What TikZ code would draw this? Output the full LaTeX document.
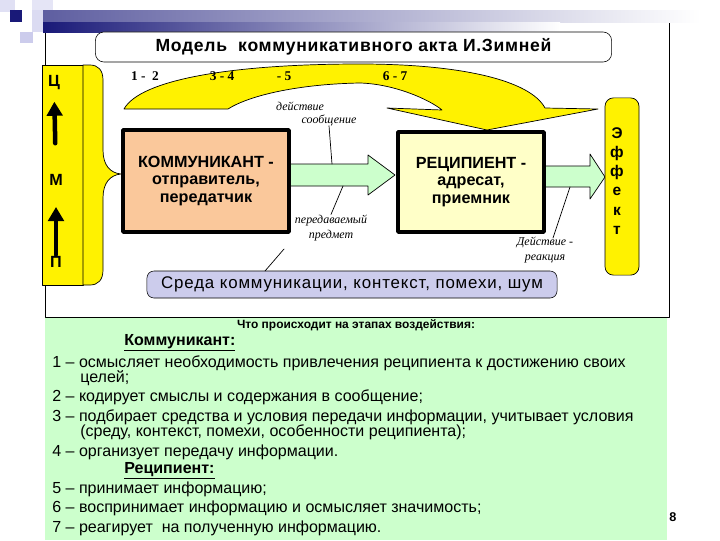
\documentclass[tikz,border=0pt]{standalone}
\usepackage{fontspec}
\setmainfont{Liberation Sans}
\newfontfamily\serffont{Liberation Serif}
\usetikzlibrary{arrows.meta}
\definecolor{peach}{RGB}{250,200,155}
\definecolor{cream}{RGB}{255,255,200}
\definecolor{mint}{RGB}{204,255,204}
\definecolor{lavend}{RGB}{204,204,236}
\definecolor{navy}{RGB}{25,25,120}
\tikzset{
  boxtxt/.style={font=\bfseries\fontsize{11.5}{12.3}\selectfont, align=center},
  thickbox/.style={draw=black, line width=2.6pt},
  lbl/.style={font=\serffont\itshape\fontsize{8.5}{11}\selectfont, align=center, inner sep=0pt},
  stagenum/.style={font=\serffont\bfseries\fontsize{9.5}{11}\selectfont, inner sep=0pt},
  lettr/.style={font=\bfseries\fontsize{11.5}{12}\selectfont, inner sep=0pt},
  item/.style={anchor=west, font=\fontsize{11.4}{13}\selectfont, inner sep=0pt},
  yel/.style={fill=yellow, draw=black, line width=0.5pt},
}
\begin{document}
\begin{tikzpicture}[x=0.025cm,y=-0.025cm,line cap=round,line join=round,>=stealth]
  \useasboundingbox (0,0) rectangle (720,540);
  % template decoration
  \fill[lavend!60] (0,0) rectangle (15,12);
  \fill[lavend!50] (32,0) rectangle (53,10);
  \fill[lavend!70] (32,10) rectangle (43,32);
  \fill[lavend] (20,32) rectangle (33,43);
  \fill[navy] (10,10) rectangle (22,22);
  % frame and green panel
  \fill[mint] (45,317) rectangle (667,540);
  \draw[line width=0.6pt] (450,22) -- (669,22) -- (669,317) -- (45,317) -- (45,32);
  \shade[left color=navy!70, right color=white] (43,10) rectangle (700,22);
  \shade[left color=navy, right color=white] (43,22) rectangle (560,32);
  % title
  \node[draw, fill=white, rounded corners=6pt, minimum width=12.9cm, minimum height=0.75cm,
        font=\bfseries\fontsize{12.5}{14}\selectfont\addfontfeatures{LetterSpace=4}] (title) at (353.5,47) {Модель\ \ коммуникативного акта И.Зимней};
  % left strip
  \draw[yel] (42,65) rectangle (83,285);
  \draw[yel] (83,65) -- (90,65) .. controls (98,65) and (103,70) .. (103,80) -- (103,150)
    .. controls (103,165) and (110,173) .. (121,174) .. controls (110,175) and (103,183) .. (103,198)
    -- (103,270) .. controls (103,280) and (98,285) .. (90,285) -- (83,285) -- cycle;
  \node[lettr] (lvlC) at (54,83) {Ц};
  \node[lettr] (lvlM) at (56,180) {М};
  \node[lettr] (lvlP) at (56,262) {П};
  \draw[line width=3.2pt, -{Triangle[width=11pt,length=10pt]}, shorten <=1pt, shorten >=15pt] (lvlP) -- (lvlM);
  \draw[line width=3.2pt, -{Triangle[width=11pt,length=10pt]}, shorten <=22pt, shorten >=8pt] (lvlM) -- (lvlC);
  % big curved arrow
  \draw[yel] (124,109) .. controls (140,80) and (230,64) .. (360,64)
    .. controls (460,64) and (530,80) .. (545,108) -- (598,109) -- (487,130) -- (387,108) -- (442,110)
    .. controls (430,100) and (395,84) .. (360,83) .. controls (300,84) and (250,95) .. (228,109) -- cycle;
  \node[stagenum] (s12) at (145,76) {1 -\ \ 2};
  \node[stagenum] (s34) at (222,76) {3 - 4};
  \node[stagenum] (s5) at (284,76) {- 5};
  \node[stagenum] (s67) at (395,76) {6 - 7};
  % block arrows
  \draw[fill=mint, line width=0.5pt] (280,164) -- (368,164) -- (368,155) -- (395,175) -- (368,195) -- (368,186) -- (280,186) -- cycle;
  \draw[fill=mint, line width=0.5pt] (540,166) -- (590,166) -- (590,154) -- (605,177) -- (590,199) -- (590,187) -- (540,187) -- cycle;
  % main boxes
  \node[thickbox, fill=peach, minimum width=4.15cm, minimum height=2.55cm, boxtxt] (comm) at (206,181)
    {КОММУНИКАНТ -\\отправитель,\\передатчик};
  \node[thickbox, fill=cream, minimum width=3.65cm, minimum height=2.5cm, boxtxt] (recip) at (471,182)
    {РЕЦИПИЕНТ -\\адресат,\\приемник};
  \node[yel, rounded corners=6pt, minimum width=0.85cm, minimum height=4.43cm] (effect) at (622,186.5) {};
  \node[font=\bfseries\fontsize{11}{13.6}\selectfont, align=center, inner sep=0pt] (effword) at (617,181)
    {Э\\ф\\ф\\е\\к\\т};
  \node[draw, fill=lavend, rounded corners=5pt, minimum width=10.25cm, minimum height=0.675cm,
        font=\fontsize{12}{14}\selectfont\addfontfeatures{LetterSpace=5}] (env) at (352,284.5) {Среда коммуникации, контекст, помехи, шум};
  % labels and their leaders
  \node[lbl] (msgA) at (300,106) {действие};
  \node[lbl] (msgB) at (329,120) {сообщение};
  \node[lbl] (obj) at (331,228) {передаваемый\\предмет};
  \node[lbl] (react) at (545,250) {Действие -\\реакция};
  \coordinate (msgpt) at (332,164);
  \coordinate (objpt) at (343,186);
  \coordinate (reactpt) at (570,187);
  \coordinate (reactend) at (553,238);
  \coordinate (envpt) at (265,271);
  \coordinate (envend) at (284,249);
  \draw[line width=0.5pt] (msgB.south) -- (msgpt);
  \draw[line width=0.5pt] (objpt) -- (obj.north);
  \draw[line width=0.5pt] (reactpt) -- (reactend);
  \draw[line width=0.5pt] (envpt) -- (envend);
  % stages
  \node[font=\bfseries\fontsize{8.5}{10}\selectfont] (stagehead) at (356,325) {Что происходит на этапах воздействия:};
  \node[item, font=\bfseries\fontsize{11.4}{13}\selectfont] (hcomm) at (124,343) {\underline{Коммуникант:}};
  \node[item] (st1) at (52,363) {1 – осмысляет необходимость привлечения реципиента к достижению своих};
  \node[item] (st1b) at (80,378) {целей;};
  \node[item] (st2) at (52,397) {2 – кодирует смыслы и содержания в сообщение;};
  \node[item] (st3) at (52,417) {3 – подбирает средства и условия передачи информации, учитывает условия};
  \node[item] (st3b) at (80,432) {(среду, контекст, помехи, особенности реципиента);};
  \node[item] (st4) at (52,452) {4 – организует передачу информации.};
  \node[item, font=\bfseries\fontsize{11.4}{13}\selectfont] (hrec) at (124,471) {\underline{Реципиент:}};
  \node[item] (st5) at (52,489) {5 – принимает информацию;};
  \node[item] (st6) at (52,508) {6 – воспринимает информацию и осмысляет значимость;};
  \node[item] (st7) at (52,528) {7 – реагирует\ \ на полученную информацию.};
  \node[font=\bfseries\fontsize{9}{10}\selectfont] (pageno) at (673,517) {8};
\end{tikzpicture}
\end{document}
